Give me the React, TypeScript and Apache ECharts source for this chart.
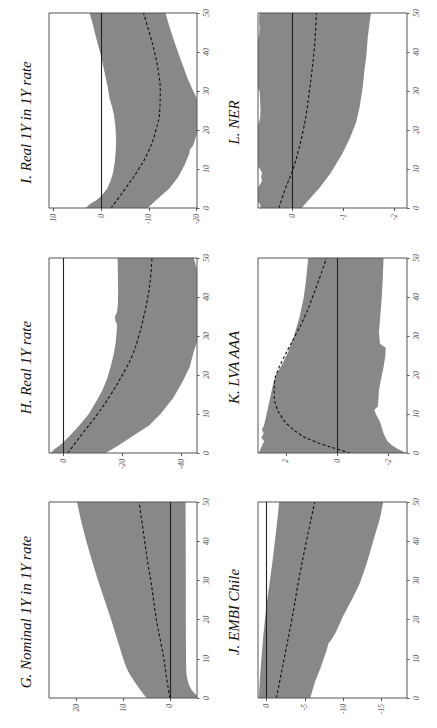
import React, { useEffect, useRef } from "react";
import * as echarts from "echarts";

// Impulse responses as [horizon, value] pairs: upper / lower band edges and the median.
const nominalUpper = [[0, 5.0], [2, 6.3], [4, 7.5], [6, 8.6], [8, 9.4], [10, 10.0], [15, 11.3], [20, 12.6], [25, 14.0], [30, 15.4], [35, 16.7], [40, 17.9], [45, 19.0], [50, 19.9]];
const nominalLower = [[0, -6.6], [1, -5.4], [2, -4.7], [3, -4.2], [4, -3.9], [5, -3.7], [6, -3.55], [8, -3.48], [10, -3.45], [20, -3.4], [30, -3.4], [40, -3.38], [50, -3.35]];
const nominalMedian = [[0, 0], [5, 0.7], [10, 1.3], [15, 2.1], [20, 2.9], [25, 3.5], [30, 4.1], [35, 4.8], [40, 5.4], [45, 6.0], [50, 6.6]];

const realUpper = [[0, 4.3], [1, 3.0], [2, 1.2], [3, -0.3], [5, -2.9], [7, -5.3], [10, -8.6], [13, -11.0], [16, -13.2], [19, -14.8], [22, -16.0], [25, -17.0], [28, -17.7], [31, -18.1], [33, -18.2], [34, -17.6], [35, -17.5], [36, -18.2], [38, -18.5], [42, -18.6], [46, -18.5], [50, -18.4]];
const realLower = [[0, -14.4], [2, -18.8], [4, -22.8], [7, -29.0], [10, -33.0], [14, -37.2], [18, -40.3], [22, -42.9], [26, -44.3], [29, -45.6], [32, -46.5], [36, -47.0], [40, -46.8], [44, -46.0], [47, -45.4], [50, -44.3]];
const realMedian = [[0, -1.5], [5, -6.5], [10, -11.6], [15, -16.1], [20, -20.0], [25, -23.4], [30, -25.6], [35, -27.3], [40, -28.7], [45, -29.6], [50, -30.1]];

const realFwdUpper = [[0, 3.2], [1, 2.3], [2, 1.0], [3, 0], [5, -1.3], [7, -2.0], [9, -2.5], [12, -2.9], [15, -3.1], [18, -3.15], [21, -3.0], [24, -2.7], [26, -2.3], [28, -1.8], [31, -1.4], [35, -0.7], [39, 0], [43, 0.9], [47, 1.7], [50, 2.4]];
const realFwdLower = [[0, -9.8], [2, -11.5], [5, -14.3], [8, -16.2], [11, -17.5], [14, -18.5], [15, -18.6], [16, -19.3], [18, -19.8], [20, -20.3], [23, -20.8], [26, -20.6], [28, -20.1], [30, -19.3], [33, -18.2], [36, -17.3], [40, -16.1], [44, -15.0], [47, -14.2], [50, -13.5]];
const realFwdMedian = [[0, -2.1], [5, -5.1], [10, -7.9], [15, -10.1], [20, -11.5], [25, -12.3], [30, -12.4], [35, -12.0], [40, -11.2], [45, -10.1], [50, -8.9]];

const embiUpper = [[0, 1.0], [5, 0.85], [10, 0.65], [15, 0.45], [20, 0.2], [25, -0.1], [30, -0.45], [35, -0.8], [40, -1.1], [45, -1.4], [50, -1.65]];
const embiLower = [[0, -5.7], [4, -6.3], [8, -7.1], [12, -7.8], [14, -8.1], [15, -8.5], [17, -9.1], [21, -10.0], [25, -11.1], [29, -12.1], [34, -13.0], [38, -13.6], [42, -14.2], [46, -14.8], [50, -15.2]];
const embiMedian = [[0, -1.3], [10, -2.3], [20, -3.3], [30, -4.2], [40, -5.2], [50, -6.3]];

const lvaUpper = [[0, 3.05], [1, 2.98], [2, 2.92], [3, 2.84], [4, 2.95], [5, 2.86], [6, 2.93], [7, 2.85], [9, 2.78], [12, 2.68], [15, 2.58], [18, 2.48], [20, 2.38], [23, 2.12], [26, 1.9], [30, 1.68], [35, 1.46], [40, 1.3], [44, 1.22], [48, 1.16], [50, 1.13]];
const lvaLower = [[0, -2.68], [1, -2.35], [2, -2.12], [3, -1.95], [5, -1.8], [8, -1.66], [10, -1.5], [11, -1.44], [12, -1.58], [16, -1.62], [19, -1.7], [22, -1.8], [25, -1.87], [27, -1.88], [28, -1.66], [31, -1.62], [35, -1.67], [40, -1.73], [45, -1.77], [50, -1.8]];
const lvaMedian = [[0, -0.5], [1, 0.0], [2, 0.48], [3, 0.9], [4, 1.25], [5, 1.5], [7, 1.88], [9, 2.14], [12, 2.37], [15, 2.45], [18, 2.44], [21, 2.32], [24, 2.11], [27, 1.88], [30, 1.64], [35, 1.26], [40, 0.96], [45, 0.68], [50, 0.42]];

const nerUpper = [[0, 0.63], [1, 0.64], [2, 0.7], [3, 0.72], [5, 0.7], [6, 0.64], [7, 0.6], [8, 0.62], [9, 0.6], [10, 0.64], [11, 0.7], [15, 0.74], [20, 0.72], [22, 0.66], [23, 0.64], [25, 0.63], [28, 0.64], [30, 0.65], [31, 0.7], [35, 0.74], [40, 0.72], [43, 0.7], [44, 0.66], [46, 0.65], [48, 0.66], [50, 0.65]];
const nerLower = [[0, -0.18], [2, -0.31], [5, -0.52], [9, -0.75], [14, -0.98], [18, -1.13], [22, -1.25], [26, -1.32], [31, -1.38], [35, -1.41], [39, -1.45], [44, -1.48], [48, -1.52], [50, -1.54]];
const nerMedian = [[0, 0.27], [5, 0.14], [10, -0.01], [15, -0.12], [20, -0.21], [25, -0.28], [30, -0.33], [35, -0.38], [40, -0.42], [45, -0.45], [50, -0.47]];

// Tick labels of each response axis
const nominalTicks = [20, 10, 0];
const realTicks = [0, -20, -40];
const realFwdTicks = [10, 0, -10, -20];
const embiTicks = [0, -5, -10, -15];
const lvaTicks = [2, 0, -2];
const nerTicks = [0, -1, -2];
const horizonTicks = [0, 10, 20, 30, 40, 50];

const titles = [
  "G. Nominal 1Y in 1Y rate",
  "H. Real 1Y rate",
  "I. Real 1Y in 1Y rate",
  "J. EMBI Chile",
  "K. LVA AAA",
  "L. NER",
];

type Pair = number[];
interface Panel {
  title: string;
  col: number;
  row: number;
  min: number;
  max: number;
  ticks: number[];
  upper: Pair[];
  lower: Pair[];
  median: Pair[];
}

const panels: Panel[] = [
  { title: titles[0], col: 0, row: 2, min: -5.8, max: 25.9, ticks: nominalTicks, upper: nominalUpper, lower: nominalLower, median: nominalMedian },
  { title: titles[1], col: 0, row: 1, min: -45.4, max: 4.9, ticks: realTicks, upper: realUpper, lower: realLower, median: realMedian },
  { title: titles[2], col: 0, row: 0, min: -20.1, max: 10.9, ticks: realFwdTicks, upper: realFwdUpper, lower: realFwdLower, median: realFwdMedian },
  { title: titles[3], col: 1, row: 2, min: -18.3, max: 1.1, ticks: embiTicks, upper: embiUpper, lower: embiLower, median: embiMedian },
  { title: titles[4], col: 1, row: 1, min: -2.71, max: 3.08, ticks: lvaTicks, upper: lvaUpper, lower: lvaLower, median: lvaMedian },
  { title: titles[5], col: 1, row: 0, min: -2.25, max: 0.68, ticks: nerTicks, upper: nerUpper, lower: nerLower, median: nerMedian },
];

const SERIF = "'Liberation Serif', 'DejaVu Serif', serif";
const BAND = "#888888";
const COL_LEFT = [49, 258];
const COL_WIDTH = [148, 149];
const ROW_TOP = [13, 258, 502];
const ROW_HEIGHT = [195, 195, 196];
const TITLE_X = [26, 234];

function buildOption(): echarts.EChartsOption {
  const grid: any[] = [];
  const xAxis: any[] = [];
  const yAxis: any[] = [];
  const series: any[] = [];
  const graphic: any[] = [];

  const labelStyle = {
    rotate: 90,
    fontSize: 7.5,
    fontStyle: "italic",
    fontFamily: SERIF,
    color: "#555",
  };

  panels.forEach((p, i) => {
    const top = ROW_TOP[p.row];
    const height = ROW_HEIGHT[p.row];
    grid.push({
      left: COL_LEFT[p.col],
      top,
      width: COL_WIDTH[p.col],
      height,
      show: true,
      backgroundColor: "transparent",
      borderColor: "#555",
      borderWidth: 1,
      z: 5,
    });

    // Response values run horizontally, largest on the left
    xAxis.push({
      type: "value",
      gridIndex: i,
      position: "bottom",
      inverse: true,
      min: p.min,
      max: p.max,
      axisLine: { show: false, onZero: false },
      splitLine: { show: false },
      axisTick: { show: true, length: 3, lineStyle: { color: "#555" }, customValues: p.ticks },
      axisLabel: { ...labelStyle, margin: 6, customValues: p.ticks },
    });

    // Horizon runs upward, labelled on the right
    yAxis.push({
      type: "value",
      gridIndex: i,
      position: "right",
      min: 0,
      max: 50,
      interval: 10,
      axisLine: { show: false, onZero: false },
      splitLine: { show: false },
      axisTick: { show: true, length: 2.5, lineStyle: { color: "#555" }, customValues: horizonTicks },
      axisLabel: { ...labelStyle, margin: 5, customValues: horizonTicks },
    });

    series.push({
      type: "custom",
      xAxisIndex: i,
      yAxisIndex: i,
      clip: true,
      silent: true,
      data: [[0, 0]],
      renderItem: (_params: any, api: any) => {
        const pts = [
          ...p.upper.map(([h, v]) => api.coord([v, h])),
          ...p.lower.slice().reverse().map(([h, v]) => api.coord([v, h])),
        ];
        return { type: "polygon", shape: { points: pts }, style: { fill: BAND } };
      },
      z: 1,
    });

    series.push({
      type: "line",
      xAxisIndex: i,
      yAxisIndex: i,
      data: p.median.map(([h, v]) => [v, h]),
      smooth: true,
      symbol: "none",
      silent: true,
      clip: true,
      lineStyle: { color: "#111", width: 1.1, type: [3, 2.2] },
      markLine: {
        silent: true,
        symbol: ["none", "none"],
        label: { show: false },
        lineStyle: { type: "solid", color: "#222", width: 1.1 },
        data: [{ xAxis: 0 }],
      },
      z: 3,
    });

    graphic.push({
      type: "text",
      x: TITLE_X[p.col],
      y: top + height / 2 + 12,
      rotation: Math.PI / 2,
      style: {
        text: p.title,
        fontSize: 15,
        fontStyle: "italic",
        fontFamily: SERIF,
        fill: "#111",
        textAlign: "center",
        textVerticalAlign: "middle",
      },
    });
  });

  return {
    animation: false,
    backgroundColor: "#fff",
    grid,
    xAxis,
    yAxis,
    series,
    graphic,
  };
}

export default function App() {
  const ref = useRef<HTMLDivElement>(null);
  useEffect(() => {
    if (!ref.current) return;
    const chart = echarts.init(ref.current, undefined, { renderer: "svg" });
    chart.setOption(buildOption());
    return () => chart.dispose();
  }, []);
  return (
    <div
      ref={ref}
      style={{ position: "fixed", left: 0, top: 0, width: 437, height: 728, background: "#fff" }}
    />
  );
}
